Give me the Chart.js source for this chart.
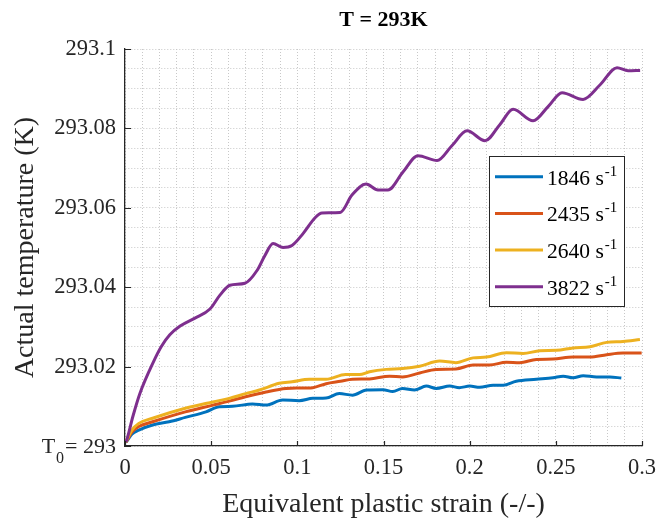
<!DOCTYPE html>
<html>
<head>
<meta charset="utf-8">
<title>T = 293K</title>
<script src="https://cdn.jsdelivr.net/npm/chart.js@4.4.1/dist/chart.umd.min.js"></script>
<style>
  html, body { margin: 0; padding: 0; background: #fff; }
  canvas { display: block; }
</style>
</head>
<body>
<canvas id="tempChart" width="656" height="521"></canvas>
<script>
/* ---------------------------------------------------------
   Data (strain -/- vs temperature K)
   --------------------------------------------------------- */
const rateLabels = ['1846', '2435', '2640', '3822'];
const rateColors = ['#0072BD', '#D95319', '#EDB120', '#7E2F8E'];

const xTickValues = [0, 0.05, 0.1, 0.15, 0.2, 0.25, 0.3];
const yTickValues = [293, 293.02, 293.04, 293.06, 293.08, 293.1];

// 1846 s^-1
const strain1846 = [0.0005, 0.001, 0.004, 0.008, 0.016, 0.0256, 0.035, 0.047, 0.0547, 0.0624, 0.074, 0.0818, 0.0915, 0.101, 0.109, 0.1167, 0.1244, 0.132, 0.14, 0.1496, 0.1554, 0.161, 0.168, 0.1748, 0.1806, 0.1884, 0.194, 0.2, 0.2058, 0.2136, 0.2194, 0.227, 0.2387, 0.2484, 0.2543, 0.26, 0.2659, 0.2736, 0.2814, 0.288];
const temp1846 = [293.001, 293.0012, 293.003, 293.004, 293.0053, 293.0061, 293.0072, 293.0086, 293.0099, 293.01, 293.0106, 293.0103, 293.0116, 293.0114, 293.012, 293.0121, 293.0132, 293.0128, 293.0141, 293.0142, 293.0137, 293.0145, 293.0141, 293.0151, 293.0145, 293.0151, 293.0147, 293.0151, 293.0148, 293.0153, 293.0153, 293.0163, 293.0168, 293.0172, 293.0176, 293.0172, 293.0177, 293.0174, 293.0174, 293.0171];

// 2435 s^-1
const strain2435 = [0.0005, 0.001, 0.004, 0.008, 0.016, 0.035, 0.051, 0.0605, 0.07, 0.0818, 0.0934, 0.101, 0.109, 0.1167, 0.125, 0.132, 0.1419, 0.1535, 0.161, 0.171, 0.1806, 0.192, 0.202, 0.2116, 0.2213, 0.229, 0.2387, 0.2484, 0.26, 0.2698, 0.2795, 0.289, 0.2998];
const temp2435 = [293.001, 293.0013, 293.0035, 293.0049, 293.0061, 293.0086, 293.0103, 293.0113, 293.0124, 293.0136, 293.0145, 293.0146, 293.0147, 293.0157, 293.0163, 293.0168, 293.0169, 293.0176, 293.0174, 293.0184, 293.0193, 293.0194, 293.0204, 293.0204, 293.0211, 293.021, 293.0218, 293.0219, 293.0224, 293.0224, 293.023, 293.0234, 293.0234];

// 2640 s^-1
const strain2640 = [0.0005, 0.001, 0.004, 0.008, 0.016, 0.035, 0.051, 0.0605, 0.07, 0.078, 0.0895, 0.097, 0.107, 0.1167, 0.128, 0.136, 0.1419, 0.1516, 0.161, 0.171, 0.1826, 0.192, 0.202, 0.2097, 0.2213, 0.231, 0.2407, 0.2504, 0.26, 0.2698, 0.2795, 0.289, 0.2988];
const temp2640 = [293.001, 293.0015, 293.004, 293.0057, 293.007, 293.0095, 293.0111, 293.012, 293.0132, 293.0141, 293.0158, 293.0162, 293.0168, 293.0168, 293.018, 293.018, 293.0187, 293.0193, 293.0195, 293.0201, 293.0214, 293.021, 293.0222, 293.0224, 293.0235, 293.0233, 293.024, 293.0241, 293.0247, 293.025, 293.0261, 293.0263, 293.0268];

// 3822 s^-1
const strain3822 = [0.0005, 0.001, 0.0046, 0.0087, 0.0163, 0.021, 0.026, 0.032, 0.0406, 0.0493, 0.0551, 0.0609, 0.0696, 0.0766, 0.0812, 0.0859, 0.0917, 0.0969, 0.1033, 0.1103, 0.1143, 0.1248, 0.1317, 0.1399, 0.1468, 0.1526, 0.1613, 0.17, 0.1811, 0.1898, 0.1985, 0.2089, 0.2176, 0.2252, 0.2368, 0.2455, 0.2536, 0.2658, 0.2757, 0.2855, 0.2919, 0.2989];
const temp3822 = [293.001, 293.0015, 293.0075, 293.0133, 293.021, 293.025, 293.028, 293.0302, 293.0322, 293.0345, 293.038, 293.0405, 293.041, 293.0442, 293.048, 293.051, 293.050, 293.0505, 293.0535, 293.0575, 293.0587, 293.0588, 293.0632, 293.066, 293.0645, 293.0645, 293.069, 293.0731, 293.0719, 293.0757, 293.0794, 293.0769, 293.081, 293.0848, 293.0819, 293.0855, 293.089, 293.0873, 293.091, 293.0953, 293.0945, 293.0946];

const allStrain = [strain1846, strain2435, strain2640, strain3822];
const allTemp = [temp1846, temp2435, temp2640, temp3822];

const SERIF = "'Liberation Serif', 'Times New Roman', serif";
const INK = '#262626';

// ---------------------------------------------------------
// Title, inward ticks, T0 label and legend box
// ---------------------------------------------------------
const overlayPlugin = {
  id: 'overlay',
  afterDraw(chart) {
    const ctx = chart.ctx;
    const xs = chart.scales.x;
    const ys = chart.scales.y;
    const area = chart.chartArea;
    ctx.save();

    // title
    ctx.fillStyle = '#000';
    ctx.font = 'bold 22px ' + SERIF;
    ctx.textAlign = 'center';
    ctx.textBaseline = 'middle';
    ctx.fillText('T = 293K', (area.left + area.right) / 2, 20);

    // inward tick marks
    ctx.strokeStyle = INK;
    ctx.lineWidth = 1.2;
    ctx.beginPath();
    xTickValues.forEach(v => {
      const px = Math.round(xs.getPixelForValue(v)) + 0.5;
      ctx.moveTo(px, area.bottom);
      ctx.lineTo(px, area.bottom - 5);
    });
    yTickValues.forEach(v => {
      const py = Math.round(ys.getPixelForValue(v)) + 0.5;
      ctx.moveTo(area.left, py);
      ctx.lineTo(area.left + 6, py);
    });
    ctx.stroke();

    // T0 = 293 label
    const y0 = ys.getPixelForValue(yTickValues[0]);
    ctx.fillStyle = INK;
    ctx.textBaseline = 'alphabetic';
    ctx.textAlign = 'right';
    ctx.font = '22px ' + SERIF;
    ctx.fillText('= 293', 116, y0 + 7);
    const eqW = ctx.measureText('= 293').width;
    ctx.font = '16px ' + SERIF;
    ctx.fillText('0', 116 - eqW - 1, y0 + 17);
    const zW = ctx.measureText('0').width;
    ctx.font = '22px ' + SERIF;
    ctx.fillText('T', 116 - eqW - zW - 2, y0 + 7);

    // legend
    const lx = 489.5, ly = 156.5, lw = 135, lh = 150;
    ctx.fillStyle = '#fff';
    ctx.fillRect(lx, ly, lw, lh);
    ctx.strokeStyle = INK;
    ctx.lineWidth = 1;
    ctx.strokeRect(lx, ly, lw, lh);
    rateLabels.forEach((lab, i) => {
      const rowY = 176.7 + i * 36.7;
      ctx.strokeStyle = rateColors[i];
      ctx.lineWidth = 3;
      ctx.beginPath();
      ctx.moveTo(495, rowY);
      ctx.lineTo(543, rowY);
      ctx.stroke();
      ctx.fillStyle = '#000';
      ctx.textAlign = 'left';
      ctx.textBaseline = 'alphabetic';
      ctx.font = '21.5px ' + SERIF;
      const txt = lab + ' s';
      ctx.fillText(txt, 547, rowY + 8);
      const w = ctx.measureText(txt).width;
      ctx.font = '15px ' + SERIF;
      ctx.fillText('-1', 547 + w + 1, rowY - 1);
    });

    ctx.restore();
  }
};

// ---------------------------------------------------------
// Chart
// ---------------------------------------------------------
const datasets = rateLabels.map((lab, i) => ({
  label: lab + ' s-1',
  data: allStrain[i].map((s, j) => ({ x: s, y: allTemp[i][j] })),
  borderColor: rateColors[i],
  backgroundColor: rateColors[i],
  borderWidth: 3,
  pointRadius: 0,
  fill: false,
  cubicInterpolationMode: 'monotone',
  order: 4 - i
}));

new Chart(document.getElementById('tempChart'), {
  type: 'line',
  data: { datasets },
  plugins: [overlayPlugin],
  options: {
    responsive: false,
    animation: false,
    layout: { padding: { top: 49, right: 14, left: 0, bottom: 0 } },
    plugins: {
      legend: { display: false },
      tooltip: { enabled: false },
      title: { display: false }
    },
    scales: {
      x: {
        type: 'linear',
        min: 0,
        max: 0.3,
        afterFit: (s) => { s.height = 75; s.paddingLeft = 0; s.paddingRight = 0; },
        grid: { color: '#c8c8c8', lineWidth: 1, drawTicks: false },
        border: { display: true, color: INK, width: 1.3, dash: [1, 2] },
        ticks: {
          stepSize: 0.01,
          autoSkip: false,
          maxRotation: 0,
          padding: 9,
          color: INK,
          font: { family: SERIF, size: 22.5 },
          callback: (v) => {
            const k = Math.round(v * 100);
            return k % 5 === 0 ? String(+v.toFixed(2)) : '';
          }
        },
        title: {
          display: true,
          text: 'Equivalent plastic strain (-/-)',
          color: INK,
          font: { family: SERIF, size: 28 },
          padding: { top: 0, bottom: 0 }
        }
      },
      y: {
        min: 293,
        max: 293.1,
        afterFit: (s) => { s.width = 125; s.paddingTop = 0; s.paddingBottom = 0; },
        grid: { color: '#c8c8c8', lineWidth: 1, drawTicks: false },
        border: { display: true, color: INK, width: 1.3, dash: [1, 2] },
        ticks: {
          stepSize: 0.005,
          autoSkip: false,
          padding: 9,
          color: INK,
          font: { family: SERIF, size: 22.5 },
          callback: (v) => {
            const k = Math.round((v - 293) * 1000);
            if (k === 0 || k % 20 !== 0) return '';
            return String(+v.toFixed(2));
          }
        },
        title: {
          display: true,
          text: 'Actual temperature (K)',
          color: INK,
          font: { family: SERIF, size: 28 },
          padding: { top: 9, bottom: 0 }
        }
      }
    }
  }
});
</script>
</body>
</html>
